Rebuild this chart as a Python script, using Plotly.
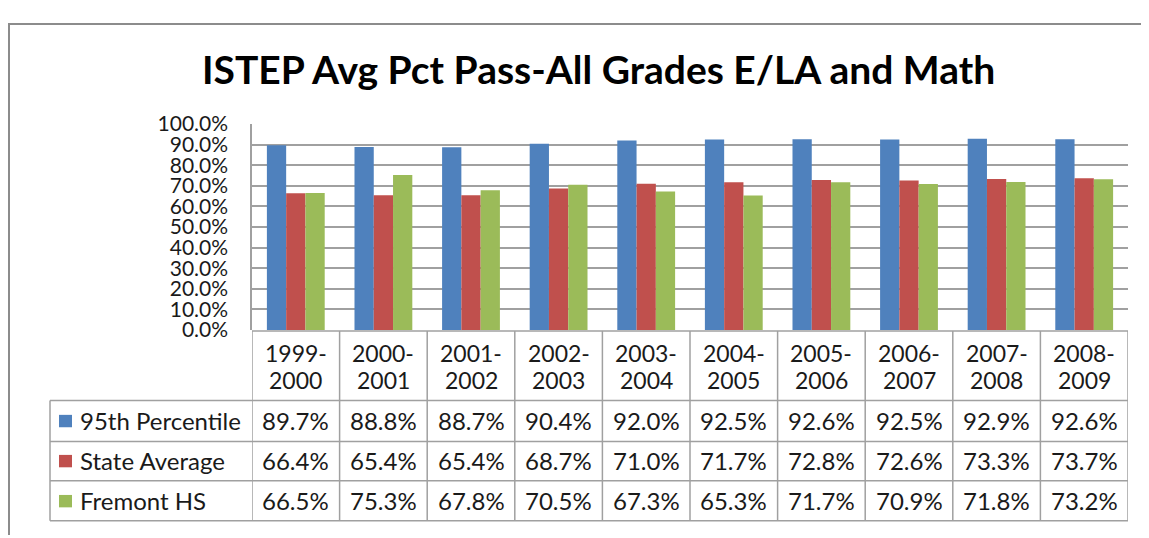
import plotly.graph_objects as go

categories = ["1999-2000", "2000-2001", "2001-2002", "2002-2003", "2003-2004",
              "2004-2005", "2005-2006", "2006-2007", "2007-2008", "2008-2009"]
series_names = ["95th Percentile", "State Average", "Fremont HS"]
pct95 = [89.7, 88.8, 88.7, 90.4, 92.0, 92.5, 92.6, 92.5, 92.9, 92.6]
state_avg = [66.4, 65.4, 65.4, 68.7, 71.0, 71.7, 72.8, 72.6, 73.3, 73.7]
fremont = [66.5, 75.3, 67.8, 70.5, 67.3, 65.3, 71.7, 70.9, 71.8, 73.2]
y_ticks = [0, 10, 20, 30, 40, 50, 60, 70, 80, 90, 100]

colors = ["#4F81BD", "#C0504D", "#9BBB59"]
series = [pct95, state_avg, fremont]

W, H = 1149, 538
OFF = 8  # page body margin
def px(x): return (x - OFF) / W
def py(y): return 1 - (y - OFF) / H

FONT = "Lato"
TXT = "#1a1a1a"
LINE = "#a0a0a0"

fig = go.Figure()
idx = list(range(len(categories)))
for name, vals, c in zip(series_names, series, colors):
    fig.add_trace(go.Bar(x=idx, y=[v / 100 for v in vals], name=name,
                         marker=dict(color=c, line=dict(width=0)),
                         showlegend=False, hoverinfo="skip"))

shapes = []
annotations = []

# Outer frame (top and left edges; the rest is cropped in the reference)
shapes.append(dict(type="line", xref="paper", yref="paper",
                   x0=0, x1=1, y0=py(10), y1=py(10),
                   line=dict(color="#8c8c8c", width=2)))
shapes.append(dict(type="line", xref="paper", yref="paper",
                   x0=px(9), x1=px(9), y0=py(10), y1=0,
                   line=dict(color="#8c8c8c", width=2)))

# Table vertical lines
for k in range(len(categories) + 1):
    shapes.append(dict(type="line", xref="x", yref="paper",
                       x0=k - 0.5, x1=k - 0.5, y0=py(332), y1=py(531),
                       line=dict(color=LINE, width=1.5)))
shapes.append(dict(type="line", xref="paper", yref="paper",
                   x0=px(50), x1=px(50), y0=py(405), y1=py(531),
                   line=dict(color=LINE, width=1.5)))
# Table horizontal lines
shapes.append(dict(type="line", xref="paper", yref="paper",
                   x0=px(252), x1=px(1128), y0=py(332), y1=py(332),
                   line=dict(color=LINE, width=1.5)))
for yy in [405, 448, 489, 531]:
    shapes.append(dict(type="line", xref="paper", yref="paper",
                       x0=px(50), x1=px(1128), y0=py(yy), y1=py(yy),
                       line=dict(color=LINE, width=1.5)))

# Header labels
for i, cat in enumerate(categories):
    a, b = cat.split("-")
    annotations.append(dict(x=i, y=py(355), xref="x", yref="paper", text=a + "-",
                            showarrow=False, font=dict(family=FONT, size=23, color=TXT),
                            xanchor="center", yanchor="middle"))
    annotations.append(dict(x=i, y=py(383), xref="x", yref="paper", text=b,
                            showarrow=False, font=dict(family=FONT, size=23, color=TXT),
                            xanchor="center", yanchor="middle"))

row_centers = [426, 468, 510]
for r, (name, vals, c) in enumerate(zip(series_names, series, colors)):
    yc = row_centers[r]
    shapes.append(dict(type="rect", xref="paper", yref="paper",
                       x0=px(59), x1=px(72), y0=py(yc - 6), y1=py(yc + 7),
                       fillcolor=c, line=dict(width=0)))
    annotations.append(dict(x=px(78), y=py(yc), xref="paper", yref="paper", text=name,
                            showarrow=False, font=dict(family=FONT, size=24, color=TXT),
                            xanchor="left", yanchor="middle"))
    for i, v in enumerate(vals):
        annotations.append(dict(x=i, y=py(yc), xref="x", yref="paper", text=f"{v:.1f}%",
                                showarrow=False, font=dict(family=FONT, size=24, color=TXT),
                                xanchor="center", yanchor="middle"))

# Title
annotations.append(dict(x=px(598), y=py(57), xref="paper", yref="paper",
                        text="<b>ISTEP Avg Pct Pass-All Grades E/LA and Math</b>",
                        showarrow=False, font=dict(family=FONT, size=39, color="#000000"),
                        xanchor="center", yanchor="middle"))

fig.update_layout(
    width=W, height=H,
    margin=dict(l=0, r=0, t=0, b=0),
    paper_bgcolor="white", plot_bgcolor="white",
    barmode="group", bargap=0.34, bargroupgap=0,
    xaxis=dict(domain=[px(252), px(1128)], range=[-0.5, len(categories) - 0.5],
               showticklabels=False, showgrid=False, zeroline=False, showline=False,
               ticks=""),
    yaxis=dict(domain=[py(331), py(115)], range=[0, 1],
               tickvals=[t / 100 for t in y_ticks], tickformat=".1%",
               showgrid=True, gridcolor=LINE, gridwidth=1.5,
               showline=True, linecolor=LINE, linewidth=1.5,
               zeroline=False, ticks="", ticklabelstandoff=18,
               tickfont=dict(family=FONT, size=21, color=TXT)),
    shapes=shapes, annotations=annotations,
)

fig.write_html("out.html")
